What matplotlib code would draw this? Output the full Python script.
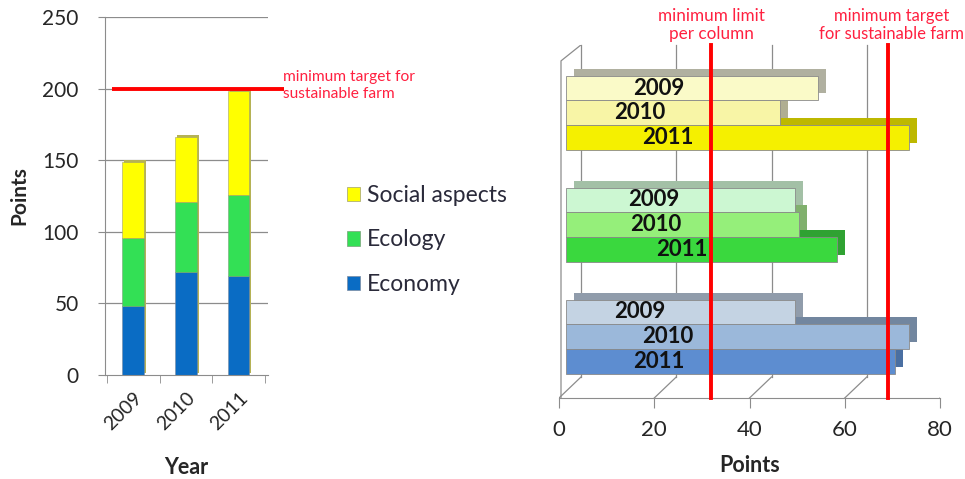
import matplotlib
matplotlib.use("Agg")
import matplotlib.pyplot as plt
import matplotlib.transforms as mtransforms
from matplotlib.patches import Patch
from matplotlib.lines import Line2D
import numpy as np

plt.rcParams["font.family"] = ["Lato", "DejaVu Sans"]

# ---------------- data ----------------
years = ["2009", "2010", "2011"]
economy = [48, 72, 69]
ecology = [48, 49, 57]
social = [53, 45, 72]

aspects = ["Economy", "Ecology", "Social aspects"]
farm_target_total = 200          # minimum target for sustainable farm (sum)
column_limit = 32                # minimum limit per column
column_target = 69               # minimum target per column for sustainable farm

left_ticks = [0, 50, 100, 150, 200, 250]
right_ticks = [0, 20, 40, 60, 80]

# ---------------- styles ----------------
c_econ, c_ecol, c_soc = "#0a6cc4", "#33e055", "#ffff00"
bar_colors = {
    "Social aspects": ["#fafac8", "#f8f5a6", "#f5f000"],
    "Ecology": ["#ccf7d2", "#95ef7a", "#3ad83e"],
    "Economy": ["#c4d3e3", "#9bb8da", "#5d8dd0"],
}
side_colors = {
    "Social aspects": ["#b0b0a0", "#b0ae92", "#bdb800"],
    "Ecology": ["#a3c0a6", "#80b06d", "#2fa232"],
    "Economy": ["#909cab", "#72869f", "#4a6fa2"],
}
grid_c = "#8c8c8c"
txt_c = "#262626"
red = "#ff0000"
red_txt = "#ff2040"

W, H, DPI = 965, 479, 100
fig = plt.figure(figsize=(W / DPI, H / DPI), dpi=DPI)


def shift(ax, dx, dy, base=None):
    base = ax.transData if base is None else base
    return base + mtransforms.ScaledTranslation(dx / DPI, dy / DPI, fig.dpi_scale_trans)


# ================= left: stacked columns =================
axL = fig.add_axes([105 / W, (479 - 375) / H, 163 / W, 358 / H])
x = np.arange(len(years))
bw = 0.4
axL.set_xlim(-0.53, 2.55)
axL.set_ylim(0, 250)

for v in left_ticks[1:]:
    axL.axhline(v, color=grid_c, lw=0.9, zorder=0)
for s in ["top", "right"]:
    axL.spines[s].set_visible(False)
axL.spines["left"].set_color(grid_c)
axL.spines["bottom"].set_color(grid_c)

totals = np.array(economy) + np.array(ecology) + np.array(social)
# thin depth face behind each stack
depth = axL.bar(x, totals, bw, color="#b5b255", zorder=1)
for p in depth:
    p.set_transform(shift(axL, 2, 2))
axL.bar(x, economy, bw, color=c_econ, zorder=2, edgecolor="#7a8aa0", lw=0.4)
axL.bar(x, ecology, bw, bottom=economy, color=c_ecol, zorder=2, edgecolor="#7aa07a", lw=0.4)
axL.bar(x, social, bw, bottom=np.array(economy) + np.array(ecology), color=c_soc,
        zorder=2, edgecolor="#a0a070", lw=0.4)

axL.set_yticks(left_ticks)
axL.set_yticklabels([str(t) for t in left_ticks], fontsize=15, color=txt_c)
axL.tick_params(axis="y", length=5, color=grid_c, pad=14)
axL.set_xticks(x)
axL.set_xticklabels(years, rotation=45, ha="right", rotation_mode="anchor",
                    fontsize=14, color=txt_c)
axL.tick_params(axis="x", length=0, pad=10)
axL.set_xticks([-0.5, 0.5, 1.5, 2.5], minor=True)
axL.tick_params(axis="x", which="minor", length=6, color=grid_c)
axL.set_xlabel("Year", fontsize=15.5, fontweight="bold", color=txt_c, labelpad=17)
axL.set_ylabel("Points", fontsize=15, fontweight="bold", color=txt_c, labelpad=9)

# target line for the whole farm
axL.plot([-0.4, 2.85], [farm_target_total, farm_target_total], color=red, lw=2.8,
         zorder=4, clip_on=False, solid_capstyle="butt")
axL.text(2.85, farm_target_total, "minimum target for\nsustainable farm", color=red_txt,
         fontsize=11.2, va="center", ha="left", linespacing=1.2,
         transform=shift(axL, -1, 3))

# ---------------- legend ----------------
handles = [Patch(facecolor=c_soc, edgecolor="#a0a070", lw=0.5),
           Patch(facecolor=c_ecol, edgecolor="#7aa07a", lw=0.5),
           Patch(facecolor=c_econ, edgecolor="#7a8aa0", lw=0.5)]
fig.legend(handles, aspects[::-1], loc="center left",
           bbox_to_anchor=(326 / W, (479 - 240) / H), frameon=False,
           handlelength=0.6, handleheight=0.6, handletextpad=0.3,
           labelspacing=1.02, prop={"size": 16.5}, labelcolor="#2a2a3a")

# ================= right: horizontal bars per aspect =================
axR = fig.add_axes([559 / W, (479 - 398) / H, 381 / W, 353 / H])
axR.set_xlim(0, 80)
axR.set_ylim(-0.545, 2.607)
for s in ["top", "right", "left"]:
    axR.spines[s].set_visible(False)
axR.spines["bottom"].set_color(grid_c)

# back wall grid, floor and side wall
xt = axR.get_xaxis_transform()
for v in right_ticks:
    if v < right_ticks[-1]:
        axR.plot([v, v], [21 / 353, 1.0], transform=shift(axR, 22, 0, xt), color=grid_c,
                 lw=0.9, zorder=0, clip_on=False)
    p0 = xt.transform((v, 0))
    axR.add_line(Line2D([p0[0], p0[0] + 22], [p0[1], p0[1] + 21], transform=None,
                        color=grid_c, lw=0.9, zorder=0))
p_top = xt.transform((0, 0.955))
p_bot = xt.transform((0, 0))
axR.add_line(Line2D([p_bot[0] + 2, p_top[0] + 2, p_top[0] + 22],
                    [p_bot[1], p_top[1], p_top[1] + 16], transform=None,
                    color=grid_c, lw=0.9, zorder=0))

groups = {"Economy": economy, "Ecology": ecology, "Social aspects": social}
bh = 0.223
label_x = {"Social aspects": [19.5, 15.5, 21.4], "Ecology": [18.5, 18.9, 24.4],
           "Economy": [15.5, 21.4, 19.5]}
offsets = [bh, 0, -bh]  # 2009 on top, 2011 at the bottom
front = shift(axR, 7, 0)
for gi, name in enumerate(aspects):
    vals = groups[name]
    for yi in range(3):
        b = axR.barh(gi + offsets[yi], vals[yi], bh, color=side_colors[name][yi],
                     zorder=1)
        b[0].set_transform(shift(axR, 15, 7))
for gi, name in enumerate(aspects):
    vals = groups[name]
    for yi in range(3):
        b = axR.barh(gi + offsets[yi], vals[yi], bh, color=bar_colors[name][yi],
                     edgecolor="#8a8a8a", lw=0.6, zorder=2)
        b[0].set_transform(front)
        axR.text(label_x[name][yi], gi + offsets[yi], years[yi], ha="center",
                 va="center", fontsize=16, fontweight="bold", color="#111111", zorder=3,
                 transform=front)

for v in (column_limit, column_target):
    axR.plot([v, v], [0, 1], transform=xt, color=red, lw=2.8, zorder=4, clip_on=False)
axR.text(column_limit, 1.0, "minimum limit\nper column", transform=shift(axR, 0, 3, xt),
         ha="center", va="bottom", fontsize=12.3, color=red_txt, linespacing=1.15)
axR.text(column_target + 0.8, 1.0, "minimum target\nfor sustainable farm",
         transform=shift(axR, 0, 3, xt), ha="center", va="bottom", fontsize=12,
         color=red_txt, linespacing=1.15)

axR.set_yticks([])
axR.set_xticks(right_ticks)
axR.set_xticklabels([str(t) for t in right_ticks], fontsize=16, color=txt_c)
axR.tick_params(axis="x", length=7, color=grid_c, pad=9)
axR.set_xlabel("Points", fontsize=15.5, fontweight="bold", color=txt_c, labelpad=11)

fig.savefig("out.png", dpi=DPI)
